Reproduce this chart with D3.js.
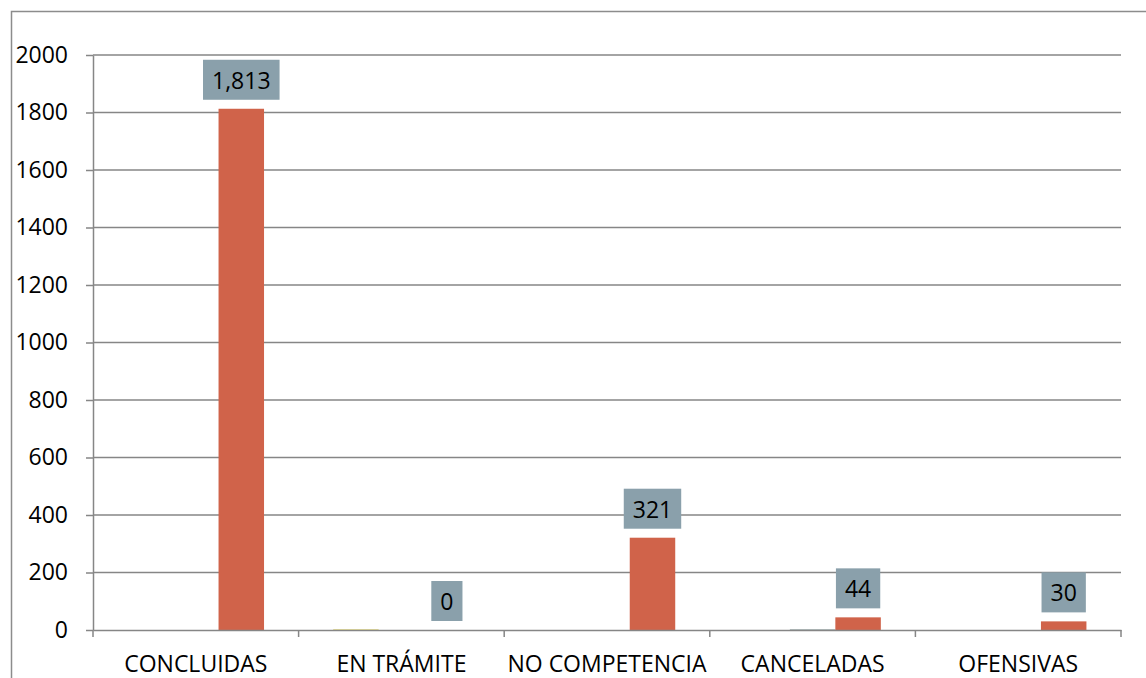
<!DOCTYPE html>
<html>
<head>
<meta charset="utf-8">
<script src="https://cdn.jsdelivr.net/npm/d3@7"></script>
<style>
  body { margin: 0; background: #fff; }
  svg { display: block; font-family: "Open Sans", "Noto Sans", sans-serif; }
</style>
</head>
<body>
<svg id="chart" width="1146" height="678"></svg>
<script>
const categories = ['CONCLUIDAS', 'EN TRÁMITE', 'NO COMPETENCIA', 'CANCELADAS', 'OFENSIVAS'];
const seriesNames = ['s1', 's2', 's3'];
const series1 = [0, 3, 0, 0, 0];
const series2 = [0, 0, 0, 3, 0];
const series3 = [1813, 0, 321, 44, 30];
const seriesColors = ['#e6dc8c', '#a8b8b8', '#d0634a'];
const yTicks = [0, 200, 400, 600, 800, 1000, 1200, 1400, 1600, 1800, 2000];

const conf = {
    width: 1146,
    height: 678,
    margin: {top: 55, left: 93, right: 25, bottom: 48}
};

const svg = d3.select('#chart');
const plotW = conf.width - conf.margin.left - conf.margin.right;
const plotH = conf.height - conf.margin.top - conf.margin.bottom;

// outer chart border (runs off the right/bottom edge like the original)
svg.append('rect')
    .attr('x', 11.5).attr('y', 11.5)
    .attr('width', 1200).attr('height', 800)
    .attr('fill', 'none')
    .attr('stroke', '#8c8c8c')
    .attr('stroke-width', 1.5);

const x = d3.scaleBand().domain(categories).range([0, plotW]);
const xs = d3.scaleBand().domain(seriesNames).range([0, x.bandwidth()]).paddingOuter(0.76);
const y = d3.scaleLinear().domain([0, 2000]).range([plotH, 0]);

const g = svg.append('g')
    .attr('transform', `translate(${conf.margin.left}, ${conf.margin.top})`);

// gridlines
g.append('g')
    .selectAll('line')
    .data(yTicks.slice(1))
    .join('line')
    .attr('x1', 0).attr('x2', plotW)
    .attr('y1', d => y(d)).attr('y2', d => y(d))
    .attr('stroke', '#868686')
    .attr('stroke-width', 1.5);

// bars
const table = categories.map((c, i) => ({
    cat: c,
    vals: [series1[i], series2[i], series3[i]].map((v, j) => ({name: seriesNames[j], value: v, color: seriesColors[j]}))
}));

const groups = g.selectAll('g.cat')
    .data(table)
    .join('g')
    .attr('class', 'cat')
    .attr('transform', d => `translate(${x(d.cat)}, 0)`);

groups.selectAll('rect')
    .data(d => d.vals.filter(v => v.value > 0))
    .join('rect')
    .attr('x', d => xs(d.name))
    .attr('width', xs.bandwidth())
    .attr('y', d => y(d.value))
    .attr('height', d => plotH - y(d.value))
    .attr('fill', d => d.color);

// y axis
const yAxis = g.append('g')
    .call(d3.axisLeft(y).tickValues(yTicks).tickFormat(d3.format('d'))
        .tickSize(7).tickSizeOuter(0).tickPadding(18));
yAxis.select('.domain').attr('stroke', '#868686').attr('stroke-width', 1.5);
yAxis.selectAll('.tick line').attr('stroke', '#868686').attr('stroke-width', 1.5);
yAxis.selectAll('.tick text').attr('font-size', 23).attr('fill', '#000')
    .style('font-family', '"Open Sans", sans-serif');

// x axis
const xAxis = g.append('g')
    .attr('transform', `translate(0, ${plotH})`)
    .call(d3.axisBottom(x).tickSize(0).tickPadding(26));
xAxis.select('.domain').attr('stroke', '#868686').attr('stroke-width', 1.5);
xAxis.selectAll('.tick text').attr('font-size', 23).attr('fill', '#000')
    .style('font-family', '"Open Sans", sans-serif');
g.append('g')
    .selectAll('line')
    .data(d3.range(categories.length + 1))
    .join('line')
    .attr('x1', i => i * x.step()).attr('x2', i => i * x.step())
    .attr('y1', plotH).attr('y2', plotH + 7)
    .attr('stroke', '#868686')
    .attr('stroke-width', 1.5);

// data labels for the main series
const fmt = d3.format(',');
const labels = g.append('g')
    .selectAll('g')
    .data(categories.map((c, i) => ({cat: c, value: series3[i]})))
    .join('g')
    .attr('transform', d => `translate(${x(d.cat) + xs('s3') + xs.bandwidth() / 2}, ${y(d.value) - 9})`);

labels.each(function(d) {
    const lab = d3.select(this);
    const t = lab.append('text')
        .attr('text-anchor', 'middle')
        .attr('y', -11)
        .attr('font-size', 23)
        .attr('fill', '#000')
        .text(fmt(d.value));
    const w = t.node().getComputedTextLength();
    lab.insert('rect', 'text')
        .attr('x', -w / 2 - 9)
        .attr('y', -40)
        .attr('width', w + 18)
        .attr('height', 40)
        .attr('fill', '#8aa0ab');
});
</script>
</body>
</html>
